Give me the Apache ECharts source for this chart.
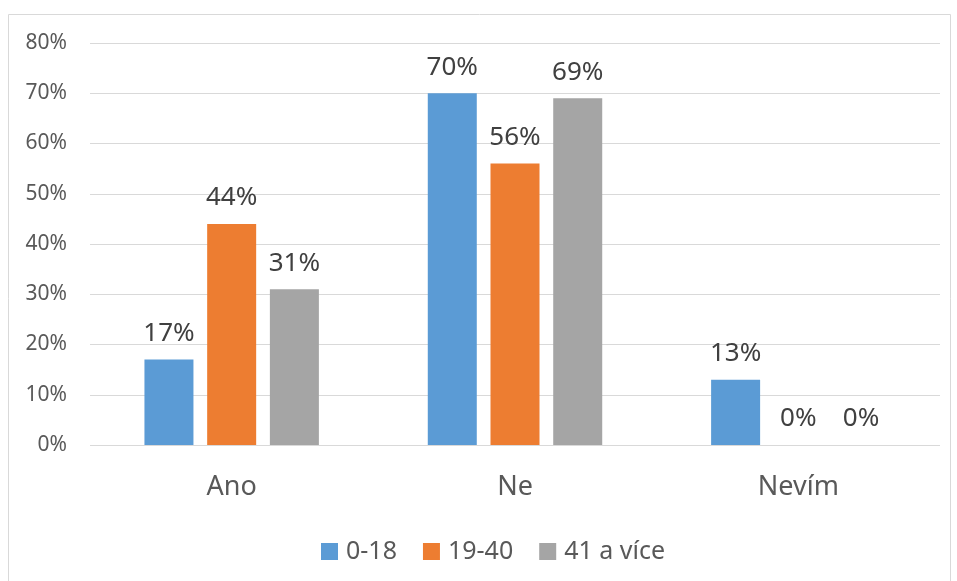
<!DOCTYPE html>
<html>
<head>
<meta charset="utf-8">
<script src="https://cdn.jsdelivr.net/npm/echarts@6/dist/echarts.min.js"></script>
<style>
  html, body { margin: 0; padding: 0; background: #fff; }
  #chart { width: 957px; height: 581px; }
</style>
</head>
<body>
<div id="chart"></div>
<script>
// Answers by age group
const categories = ['Ano', 'Ne', 'Nevím'];
const seriesNames = ['0-18', '19-40', '41 a více'];
const values0to18 = [17, 70, 13];
const values19to40 = [44, 56, 0];
const values41plus = [31, 69, 0];
const yTicks = [0, 10, 20, 30, 40, 50, 60, 70, 80];

const colors = ['#5B9BD5', '#ED7D31', '#A5A5A5'];
const font = '"Noto Sans", "Open Sans", sans-serif';
const textColor = '#595959';

const chart = echarts.init(document.getElementById('chart'), null, { renderer: 'canvas' });

function barSeries(name, data, color) {
  return {
    name: name,
    type: 'bar',
    data: data,
    barWidth: 49,
    barGap: '28%',
    itemStyle: { color: color },
    label: {
      show: true,
      position: 'top',
      distance: 13,
      formatter: '{c}%',
      fontFamily: font,
      fontSize: 26,
      color: '#404040'
    }
  };
}

chart.setOption({
  animation: false,
  color: colors,
  graphic: [{
    type: 'rect',
    shape: { x: 8.5, y: 14.5, width: 942, height: 600 },
    style: { fill: 'none', stroke: '#D9D9D9', lineWidth: 1 },
    silent: true
  }],
  grid: { left: 90, right: 17, top: 43, bottom: 136 },
  legend: {
    top: 534,
    left: 316,
    itemWidth: 17,
    itemHeight: 17,
    itemGap: 26,
    icon: 'rect',
    textStyle: { fontFamily: font, fontSize: 25, color: textColor, padding: [0, 0, 0, 3] },
    data: seriesNames
  },
  xAxis: {
    type: 'category',
    data: categories,
    axisLine: { show: false },
    axisTick: { show: false },
    axisLabel: { fontFamily: font, fontSize: 27, color: textColor, margin: 29 }
  },
  yAxis: {
    type: 'value',
    min: yTicks[0],
    max: yTicks[yTicks.length - 1],
    interval: 10,
    axisLine: { show: false },
    axisTick: { show: false },
    splitLine: { lineStyle: { color: '#D9D9D9', width: 1 } },
    axisLabel: { fontFamily: font, fontSize: 21, color: textColor, margin: 23, formatter: '{value}%' }
  },
  series: [
    barSeries(seriesNames[0], values0to18, colors[0]),
    barSeries(seriesNames[1], values19to40, colors[1]),
    barSeries(seriesNames[2], values41plus, colors[2])
  ]
});
</script>
</body>
</html>
